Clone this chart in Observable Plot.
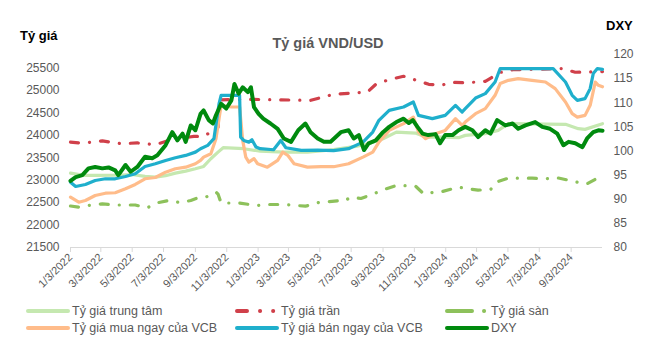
<!DOCTYPE html>
<html><head><meta charset="utf-8">
<script src="https://cdn.jsdelivr.net/npm/d3@7"></script>
<script src="https://cdn.jsdelivr.net/npm/@observablehq/plot@0.6"></script>
<style>
body{margin:0;background:#fff;}
#wrap{position:relative;width:661px;height:352px;font-family:"Liberation Sans",Arial,sans-serif;overflow:hidden;}
#chart{position:absolute;left:0;top:0;}
.lg{position:absolute;font-size:12.5px;color:#595959;line-height:14px;white-space:nowrap;}
.sw{position:absolute;}
</style></head>
<body>
<div id="wrap">
  <div id="chart"></div>
  <svg id="over" width="661" height="300" style="position:absolute;left:0;top:0;pointer-events:none">
    <text x="20" y="40" font-size="13" font-weight="bold" fill="#000">Tỷ giá</text>
    <text x="328" y="48" font-size="14.5" font-weight="bold" fill="#595959" text-anchor="middle">Tỷ giá VND/USD</text>
    <text x="606" y="30" font-size="13" font-weight="bold" fill="#000">DXY</text>
  </svg>
  <div id="legend"></div>
</div>
<script>
// ---- Data ----
const xTickLabels = ["2022-01-03","2022-03-03","2022-05-03","2022-07-03","2022-09-03","2022-11-03","2023-01-03","2023-03-03","2023-05-03","2023-07-03","2023-09-03","2023-11-03","2024-01-03","2024-03-03","2024-05-03","2024-07-03","2024-09-03"];
const leftTicks = [21500,22000,22500,23000,23500,24000,24500,25000,25500];
const rightTicks = [80,85,90,95,100,105,110,115,120];

const central = [["2022-01-03",23157],["2022-02-01",23105],["2022-02-26",23105],["2022-03-31",23110],["2022-05-03",23127],["2022-05-28",23083],["2022-06-17",23067],["2022-07-07",23100],["2022-07-26",23157],["2022-08-15",23201],["2022-09-03",23255],["2022-09-19",23306],["2022-10-03",23478],["2022-10-17",23625],["2022-10-27",23723],["2022-12-06",23701],["2023-01-07",23647],["2023-02-22",23625],["2023-04-09",23625],["2023-05-30",23679],["2023-07-12",23752],["2023-08-06",23812],["2023-09-03",23924],["2023-09-29",24071],["2023-11-05",24049],["2023-11-25",23960],["2023-12-27",23960],["2024-01-28",23946],["2024-02-10",23998],["2024-03-20",24036],["2024-04-14",24109],["2024-05-04",24259],["2024-08-23",24244],["2024-09-17",24147],["2024-09-30",24132],["2024-11-03",24259]];

const ceiling = [["2022-01-03",23848],["2022-01-19",23830],["2022-02-07",23840],["2022-03-06",23875],["2022-04-12",23812],["2022-05-13",23830],["2022-06-17",23790],["2022-07-20",23908],["2022-08-31",23975],["2022-09-19",23975],["2022-10-13",24147],["2022-10-17",24180],["2022-10-19",24790],["2022-12-20",24800],["2023-02-10",24790],["2023-04-15",24779],["2023-05-30",24913],["2023-06-28",24936],["2023-08-04",24965],["2023-08-20",25136],["2023-09-15",25241],["2023-10-13",25315],["2023-11-11",25210],["2023-12-01",25136],["2023-12-25",25114],["2024-01-16",25181],["2024-02-14",25170],["2024-03-20",25203],["2024-04-18",25400],["2024-05-12",25460],["2024-08-17",25487],["2024-09-11",25404],["2024-10-06",25411],["2024-11-03",25420]];

const floor = [["2022-01-03",22424],["2022-01-19",22400],["2022-02-01",22430],["2022-03-06",22473],["2022-03-27",22447],["2022-05-09",22447],["2022-06-01",22385],["2022-06-23",22500],["2022-07-13",22547],["2022-08-05",22500],["2022-08-25",22547],["2022-09-07",22603],["2022-09-23",22620],["2022-10-13",22733],["2022-10-17",22690],["2022-10-23",22491],["2022-11-28",22491],["2022-12-30",22435],["2023-01-21",22458],["2023-02-22",22458],["2023-04-05",22420],["2023-05-01",22502],["2023-06-13",22547],["2023-06-17",22530],["2023-07-04",22621],["2023-07-22",22592],["2023-08-24",22733],["2023-09-09",22808],["2023-09-29",22882],["2023-11-05",22870],["2023-11-21",22696],["2023-12-08",22725],["2023-12-25",22740],["2024-01-28",22844],["2024-02-16",22808],["2024-03-06",22779],["2024-03-30",22790],["2024-04-14",22971],["2024-05-04",23045],["2024-06-19",23045],["2024-07-15",23031],["2024-08-07",23054],["2024-09-15",22956],["2024-10-04",22919],["2024-10-24",23045],["2024-11-03",23045]];

const vcbBuy = [["2022-01-03",22621],["2022-01-19",22509],["2022-02-01",22547],["2022-02-20",22659],["2022-03-12",22710],["2022-03-31",22720],["2022-04-20",22808],["2022-05-09",22904],["2022-05-28",23031],["2022-06-17",23060],["2022-07-07",23179],["2022-07-26",23255],["2022-08-15",23290],["2022-09-03",23366],["2022-09-13",23440],["2022-09-19",23514],["2022-10-03",23589],["2022-10-13",23924],["2022-10-19",24371],["2022-10-23",24667],["2022-11-12",24630],["2022-11-28",24630],["2022-12-04",23886],["2022-12-10",23514],["2022-12-16",23402],["2022-12-26",23480],["2023-01-02",23366],["2023-01-21",23290],["2023-02-10",23440],["2023-02-20",23625],["2023-03-02",23550],["2023-03-14",23366],["2023-04-09",23290],["2023-05-05",23300],["2023-05-30",23300],["2023-06-28",23366],["2023-07-26",23514],["2023-08-14",23625],["2023-08-26",23848],["2023-09-15",24109],["2023-10-13",24259],["2023-11-01",24406],["2023-11-11",24071],["2023-11-25",23924],["2023-12-14",24036],["2024-01-02",24109],["2024-01-22",24371],["2024-02-04",24221],["2024-02-10",24295],["2024-03-01",24482],["2024-03-20",24594],["2024-04-08",24891],["2024-04-18",25152],["2024-05-04",25225],["2024-05-23",25263],["2024-06-19",25225],["2024-07-15",25187],["2024-08-03",25040],["2024-08-23",24741],["2024-09-05",24482],["2024-09-15",24406],["2024-09-30",24444],["2024-10-10",24667],["2024-10-20",25187],["2024-10-26",25114],["2024-11-03",25080]];

const vcbSell = [["2022-01-03",22956],["2022-01-13",22860],["2022-02-01",22904],["2022-02-20",22993],["2022-03-12",23031],["2022-03-31",23031],["2022-04-20",23083],["2022-05-09",23143],["2022-05-28",23306],["2022-06-17",23366],["2022-07-07",23440],["2022-07-26",23500],["2022-08-15",23552],["2022-09-03",23625],["2022-09-13",23701],["2022-09-27",23775],["2022-10-09",23924],["2022-10-19",24705],["2022-10-23",24891],["2022-11-28",24891],["2022-11-30",23960],["2022-12-06",23886],["2022-12-16",23848],["2022-12-22",23900],["2022-12-30",23737],["2023-01-07",23701],["2023-02-02",23678],["2023-02-16",23886],["2023-02-26",23723],["2023-03-28",23663],["2023-04-29",23670],["2023-05-30",23660],["2023-06-28",23701],["2023-07-26",23848],["2023-08-14",24071],["2023-08-26",24333],["2023-09-15",24556],["2023-10-13",24630],["2023-11-01",24741],["2023-11-11",24444],["2023-12-08",24371],["2024-01-02",24444],["2024-01-22",24667],["2024-02-04",24518],["2024-02-10",24594],["2024-03-01",24830],["2024-03-20",24929],["2024-04-08",25187],["2024-04-18",25487],["2024-07-30",25487],["2024-08-23",25187],["2024-09-05",24891],["2024-09-15",24779],["2024-09-30",24817],["2024-10-10",25040],["2024-10-16",25375],["2024-10-24",25487],["2024-11-03",25470]];

const dxy = [["2022-01-03",93.8],["2022-01-13",94.6],["2022-01-26",95.0],["2022-02-07",96.4],["2022-02-20",96.7],["2022-03-06",96.4],["2022-03-18",96.6],["2022-03-31",96.0],["2022-04-06",95.0],["2022-04-20",97.1],["2022-04-30",95.7],["2022-05-13",96.7],["2022-05-28",98.8],["2022-06-11",98.5],["2022-06-21",99.1],["2022-07-07",101.2],["2022-07-20",103.9],["2022-07-30",102.2],["2022-08-09",103.6],["2022-08-15",101.9],["2022-08-25",105.3],["2022-09-03",104.3],["2022-09-13",107.7],["2022-09-19",108.4],["2022-09-29",106.4],["2022-10-07",105.7],["2022-10-13",107.4],["2022-10-23",109.8],["2022-11-02",108.8],["2022-11-12",110.5],["2022-11-18",113.9],["2022-11-26",111.9],["2022-12-04",113.2],["2022-12-14",112.2],["2022-12-20",113.2],["2022-12-26",109.1],["2023-01-04",107.7],["2023-01-13",106.7],["2023-01-27",105.7],["2023-02-10",104.6],["2023-02-22",102.6],["2023-03-08",101.9],["2023-03-22",104.3],["2023-04-05",105.7],["2023-04-15",103.9],["2023-04-29",102.6],["2023-05-11",101.9],["2023-05-24",101.9],["2023-06-03",102.9],["2023-06-13",103.9],["2023-06-28",104.3],["2023-07-08",102.6],["2023-07-18",103.3],["2023-07-28",100.2],["2023-08-06",101.6],["2023-08-20",102.2],["2023-09-03",103.9],["2023-09-15",105.0],["2023-09-29",106.0],["2023-10-13",106.7],["2023-10-23",105.8],["2023-10-31",106.4],["2023-11-09",105.0],["2023-11-19",103.6],["2023-11-30",103.3],["2023-12-14",103.5],["2023-12-23",101.6],["2024-01-02",103.3],["2024-01-16",103.3],["2024-01-28",104.3],["2024-02-10",105.0],["2024-02-24",104.3],["2024-03-06",102.9],["2024-03-20",104.3],["2024-03-30",103.6],["2024-04-12",106.4],["2024-04-28",105.3],["2024-05-12",105.7],["2024-05-23",104.6],["2024-06-06",105.3],["2024-06-25",106.0],["2024-07-09",105.0],["2024-07-24",104.6],["2024-08-07",103.6],["2024-08-19",101.2],["2024-08-29",101.9],["2024-09-11",101.6],["2024-09-25",100.8],["2024-10-04",102.6],["2024-10-16",103.9],["2024-10-26",104.3],["2024-11-03",104.2]];

// ---- Chart ----
const parse = d3.utcParse("%Y-%m-%d");
const rows = arr => arr.map(([d, v]) => ({date: parse(d), value: v}));
const yMin = 21500, yMax = 25800, dMin = 80, dMax = 120;
const dxyToY = v => yMin + (v - dMin) / (dMax - dMin) * (yMax - yMin);
const yToDxy = v => dMin + (v - yMin) / (yMax - yMin) * (dMax - dMin);
const fmtDate = d => `${d.getUTCMonth() + 1}/${d.getUTCDate()}/${d.getUTCFullYear()}`;

const C = {central: "#C5E8B0", ceiling: "#D0404A", floor: "#8DC15B", buy: "#FFBC8A", sell: "#1FAFCC", dxy: "#008A0E"};
const dashCF = "8,11,0.1,11";

const chart = Plot.plot({
  width: 661, height: 300,
  marginLeft: 70, marginRight: 59, marginTop: 54, marginBottom: 53,
  style: {fontFamily: "Liberation Sans, Arial, sans-serif", background: "transparent"},
  x: {type: "utc", domain: [parse("2022-01-03"), parse("2024-11-03")]},
  y: {domain: [yMin, yMax]},
  marks: [
    Plot.ruleY([yMin], {stroke: "#d9d9d9", strokeWidth: 1.2}),
    Plot.axisX({ticks: xTickLabels.map(parse), tickFormat: fmtDate, tickRotate: -45, tickSize: 5, tickPadding: 3,
      stroke: "#d9d9d9", fill: "#595959", fontSize: 11, label: null}),
    Plot.axisY({ticks: leftTicks, tickFormat: d => String(d), tickSize: 0, tickPadding: 11,
      fill: "#595959", fontSize: 12, label: null}),
    Plot.axisY({anchor: "right", ticks: rightTicks.map(dxyToY), tickFormat: v => String(Math.round(yToDxy(v))),
      tickSize: 0, tickPadding: 11, fill: "#595959", fontSize: 12, label: null}),
    Plot.lineY(rows(central), {x: "date", y: "value", stroke: C.central, strokeWidth: 3.2}),
    Plot.lineY(rows(ceiling), {x: "date", y: "value", stroke: C.ceiling, strokeWidth: 3.2, strokeDasharray: dashCF, strokeLinecap: "round"}),
    Plot.lineY(rows(floor), {x: "date", y: "value", stroke: C.floor, strokeWidth: 3.2, strokeDasharray: dashCF, strokeLinecap: "round"}),
    Plot.lineY(rows(vcbBuy), {x: "date", y: "value", stroke: C.buy, strokeWidth: 3.2}),
    Plot.lineY(rows(vcbSell), {x: "date", y: "value", stroke: C.sell, strokeWidth: 3.2}),
    Plot.lineY(rows(dxy), {x: "date", y: d => dxyToY(d.value), stroke: C.dxy, strokeWidth: 4})
  ]
});
document.getElementById("chart").appendChild(chart);

// ---- Legend ----
const legendItems = [
  {label: "Tỷ giá trung tâm", color: C.central, dash: null, x: 28, row: 0},
  {label: "Tỷ giá trần", color: C.ceiling, dash: "10,13,0.1,13,0.1,20", x: 237, row: 0},
  {label: "Tỷ giá sàn", color: C.floor, dash: "25,12,0.1,20", x: 447, row: 0},
  {label: "Tỷ giá mua ngay của VCB", color: C.buy, dash: null, x: 28, row: 1},
  {label: "Tỷ giá bán ngay của VCB", color: C.sell, dash: null, x: 237, row: 1},
  {label: "DXY", color: C.dxy, dash: null, x: 447, row: 1}
];
const lg = document.getElementById("legend");
legendItems.forEach(it => {
  const cy = it.row === 0 ? 311 : 328;
  const s = document.createElementNS("http://www.w3.org/2000/svg", "svg");
  s.setAttribute("width", 44); s.setAttribute("height", 8);
  s.setAttribute("class", "sw");
  s.style.left = (it.x - 2) + "px"; s.style.top = (cy - 4) + "px";
  const l = document.createElementNS("http://www.w3.org/2000/svg", "line");
  l.setAttribute("x1", 2); l.setAttribute("x2", 42); l.setAttribute("y1", 4); l.setAttribute("y2", 4);
  l.setAttribute("stroke", it.color); l.setAttribute("stroke-width", 4); l.setAttribute("stroke-linecap", "round");
  if (it.dash) l.setAttribute("stroke-dasharray", it.dash);
  s.appendChild(l); lg.appendChild(s);
  const t = document.createElement("div");
  t.className = "lg"; t.textContent = it.label;
  t.style.left = (it.x + 44) + "px"; t.style.top = (cy - 7) + "px";
  lg.appendChild(t);
});
</script>
</body></html>
